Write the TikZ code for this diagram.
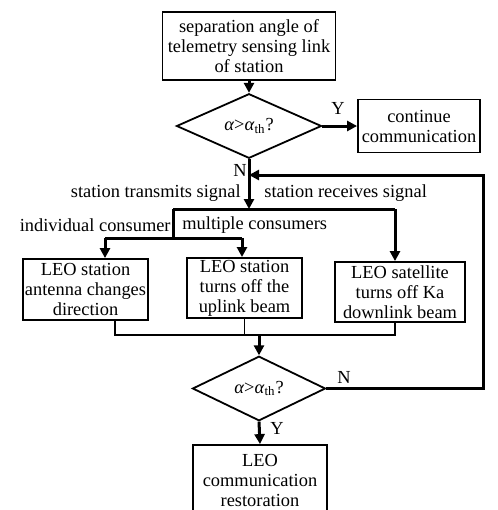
\documentclass[tikz,border=0pt]{standalone}
\usepackage{fontspec}
\setmainfont{Liberation Serif}
\usepackage{tikz}
\usetikzlibrary{
    calc,
    arrows.meta,
    shapes.geometric,
    positioning
}
\tikzset{
    stepbox/.style={draw, line width=0.9pt, align=center, inner sep=1pt},
    decide/.style={draw, diamond, line width=0.9pt, inner sep=0pt},
    flow/.style={line width=1.5pt, -{Triangle[length=5pt,width=5pt]}},
    flowline/.style={line width=1.5pt},
    joinline/.style={line width=0.6pt},
    lbl/.style={inner sep=0pt}
}
\newcommand{\alphath}{\textit{α}>\textit{α}\textsubscript{th}?}

\begin{document}
\begin{tikzpicture}[x=0.5pt, y=-0.5pt, font=\fontsize{9.2pt}{10pt}\selectfont]
    \useasboundingbox (0,0) rectangle (498,510);
    \node[stepbox, minimum width=86.5pt, minimum height=34pt] (angle) at (249,46)
        {separation angle of\\telemetry sensing link\\of station};
    \node[decide, minimum width=72.5pt, minimum height=31pt] (check1) at (249,126) {\alphath};
    \node[stepbox, minimum width=61pt, minimum height=26.5pt] (cont) at (419,126)
        {continue\\communication};
    \node[stepbox, minimum width=46.5pt, minimum height=30.5pt] (turn) at (85.5,289.5)
        {LEO station\\antenna changes\\direction};
    \node[stepbox, minimum width=57.5pt, minimum height=30pt] (upoff) at (244.5,288)
        {LEO station\\turns off the\\uplink beam};
    \node[stepbox, minimum width=65pt, minimum height=30pt] (downoff) at (400,292)
        {LEO satellite\\turns off Ka\\downlink beam};
    \node[decide, minimum width=66.5pt, minimum height=26.5pt] (check2) at (259,388.5) {\alphath};
    \node[stepbox, minimum width=67pt, minimum height=35pt] (restore) at (260,480)
        {LEO\\communication\\restoration};

    \coordinate (split) at (249,209);
    \coordinate (left) at (173,209);
    \coordinate (cons) at (173,238);
    \coordinate (ind) at (105,238);
    \coordinate (mult) at (242,238);
    \coordinate (jleft) at (115,335);
    \coordinate (jright) at (395,335);
    \coordinate (merge) at (259,335);
    \coordinate (back) at (483,175);

    \draw[flow] (check1 |- angle.south) -- (check1.north);
    \draw[flow] (check1.east) -- (cont.west) node[lbl, pos=0.45, above=5pt] {Y};
    \draw[flow] (check1.south) -- (split);
    \draw[flowline] (left) -- (jright |- split);
    \draw[flow] (jright |- split) -- (jright |- downoff.north);
    \draw[flowline] (left) -- (cons);
    \draw[flowline] (ind) -- (mult);
    \draw[flow] (ind) -- (ind |- turn.north);
    \draw[flow] (mult) -- (mult |- upoff.north);

    % thin joins under the three boxes
    \draw[joinline] (jleft |- turn.south) -- (jleft) -- (jright) -- (jright |- downoff.south);
    \draw[joinline] (upoff.south) -- (upoff.south |- merge);
    \draw[flow] (merge) -- (check2.north);
    \draw[flow] (check2.south) -- (restore.north);
    \draw[flow] (check2.east) -- (check2.east -| back) -- (back) -- (back -| check1.south);

    \node[lbl] at (240,170) {N};
    \node[lbl, anchor=east] at (241,193) {station transmits signal};
    \node[lbl, anchor=west] at (264,193) {station receives signal};
    \node[lbl, anchor=east] at (171,225) {individual consumer};
    \node[lbl, anchor=west] at (182,225) {multiple consumers};
    \node[lbl] at (344,377) {N};
    \node[lbl] at (277,428) {Y};
\end{tikzpicture}
\end{document}
